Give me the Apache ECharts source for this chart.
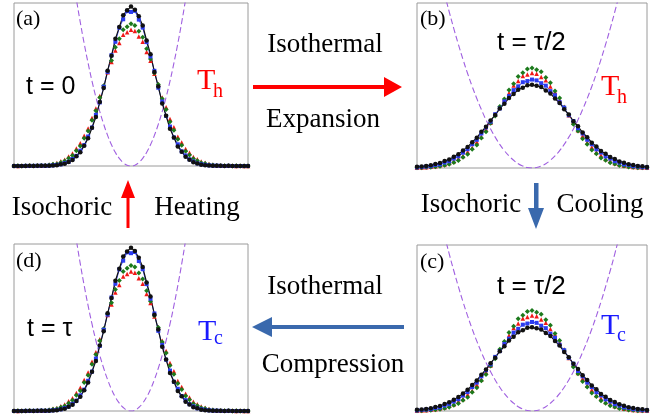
<!DOCTYPE html>
<html>
<head>
<meta charset="utf-8">
<script src="https://cdn.jsdelivr.net/npm/echarts@6/dist/echarts.min.js"></script>
<style>
  html, body { margin: 0; padding: 0; background: #fff; }
  #chart { width: 667px; height: 418px; }
</style>
</head>
<body>
<div id="chart"></div>
<script>
// Sample positions (bins) for the narrow-trap and wide-trap distributions
const xNarrow = [-30,-29,-28,-27,-26,-25,-24,-23,-22,-21,-20,-19,-18,-17,-16,-15,-14,-13,-12,-11,-10,-9,-8,-7,-6,-5,-4,-3,-2,-1,0,1,2,3,4,5,6,7,8,9,10,11,12,13,14,15,16,17,18,19,20,21,22,23,24,25,26,27,28,29,30];
const xWide = [-25,-24,-23,-22,-21,-20,-19,-18,-17,-16,-15,-14,-13,-12,-11,-10,-9,-8,-7,-6,-5,-4,-3,-2,-1,0,1,2,3,4,5,6,7,8,9,10,11,12,13,14,15,16,17,18,19,20,21,22,23,24,25];

// Position distributions in the stiff trap (t = 0 and t = tau)
const blackNarrow = [0,0,0,0,0.001,0,0.001,0.001,0.002,0.002,
  0.003,0.005,0.010,0.014,0.025,0.037,0.060,0.085,0.125,0.170,
  0.235,0.300,0.392,0.478,0.585,0.676,0.780,0.852,0.925,0.955,
  0.978,
  0.958,0.918,0.862,0.770,0.686,0.577,0.488,0.384,0.308,0.228,
  0.175,0.120,0.088,0.056,0.039,0.023,0.016,0.008,0.005,0.003,
  0.002,0.001,0.001,0,0.001,0,0,0,0,0];
const blueNarrow = [0,0,0,0.001,0,0.001,0.001,0.002,0.001,0.002,
  0.004,0.007,0.010,0.018,0.026,0.043,0.062,0.094,0.128,0.181,
  0.236,0.314,0.390,0.487,0.577,0.680,0.762,0.848,0.900,0.950,
  0.945,
  0.952,0.898,0.849,0.760,0.672,0.584,0.480,0.396,0.307,0.242,
  0.175,0.133,0.090,0.065,0.041,0.028,0.016,0.011,0.007,0.004,
  0.002,0.002,0.001,0,0.001,0,0,0,0,0];
const greenNarrow = [0,0.001,0,0.001,0.001,0.002,0.001,0.003,0.003,0.006,
  0.010,0.013,0.022,0.030,0.047,0.064,0.094,0.122,0.170,0.214,
  0.280,0.339,0.421,0.492,0.580,0.648,0.728,0.781,0.836,0.855,
  0.872,
  0.862,0.826,0.790,0.720,0.657,0.571,0.500,0.413,0.347,0.272,
  0.220,0.164,0.128,0.090,0.068,0.044,0.032,0.020,0.015,0.008,
  0.006,0.003,0.002,0.001,0.001,0,0.001,0,0,0];
const redNarrow = [0.001,0,0.001,0.001,0.002,0.001,0.003,0.003,0.005,0.008,
  0.013,0.018,0.029,0.039,0.058,0.077,0.108,0.139,0.186,0.230,
  0.295,0.352,0.430,0.494,0.575,0.638,0.709,0.755,0.805,0.820,
  0.836,
  0.828,0.795,0.762,0.700,0.646,0.566,0.502,0.421,0.360,0.288,
  0.238,0.180,0.144,0.104,0.081,0.055,0.041,0.027,0.020,0.012,
  0.008,0.005,0.003,0.002,0.001,0.001,0,0.001,0,0];

// Position distributions in the soft trap (t = tau/2)
const blackWide = [0.007,0.009,0.012,0.017,0.024,0.030,0.042,0.052,0.068,0.084,
  0.106,0.128,0.156,0.184,0.219,0.250,0.288,0.321,0.360,0.390,
  0.425,0.448,0.474,0.487,0.501,
  0.504,
  0.498,0.491,0.470,0.452,0.421,
  0.394,0.356,0.324,0.284,0.253,0.215,0.187,0.153,0.131,0.103,
  0.086,0.066,0.054,0.040,0.032,0.022,0.018,0.012,0.010,0.006];
const blueWide = [0.004,0.006,0.009,0.011,0.018,0.022,0.033,0.041,0.057,0.071,
  0.093,0.114,0.144,0.171,0.209,0.246,0.281,0.326,0.361,0.404,
  0.436,0.472,0.495,0.520,0.527,
  0.536,
  0.531,0.514,0.499,0.466,0.441,
  0.399,0.366,0.320,0.285,0.241,0.209,0.171,0.144,0.113,0.094,
  0.070,0.057,0.041,0.033,0.022,0.018,0.011,0.009,0.005,0.004];
const redWide = [0.002,0.003,0.005,0.008,0.010,0.016,0.021,0.031,0.041,0.058,
  0.073,0.099,0.122,0.158,0.190,0.234,0.274,0.325,0.366,0.416,
  0.455,0.500,0.527,0.557,0.566,
  0.576,
  0.571,0.551,0.532,0.494,0.461,
  0.411,0.371,0.319,0.278,0.229,0.194,0.154,0.126,0.095,0.077,
  0.054,0.043,0.029,0.023,0.014,0.011,0.006,0.005,0.003,0.002];
const greenWide = [0.001,0.002,0.004,0.005,0.008,0.010,0.017,0.022,0.034,0.045,
  0.065,0.083,0.113,0.140,0.182,0.220,0.271,0.315,0.372,0.418,
  0.473,0.511,0.555,0.577,0.600,
  0.606,
  0.595,0.583,0.549,0.517,0.467,
  0.424,0.366,0.321,0.265,0.224,0.177,0.144,0.109,0.087,0.061,
  0.047,0.032,0.024,0.015,0.012,0.006,0.005,0.002,0.002,0.001];

// Harmonic trapping potentials (stiff and soft)
const potXNarrow = [-15,-14,-13,-12,-11,-10,-9,-8,-7,-6,-5,-4,-3,-2,-1,0,1,2,3,4,5,6,7,8,9,10,11,12,13,14,15];
const potNarrow = [1.173,1.022,0.881,0.751,0.631,0.521,0.422,0.334,0.256,0.188,0.130,0.083,0.047,0.021,0.005,0,
  0.005,0.021,0.047,0.083,0.130,0.188,0.256,0.334,0.422,0.521,0.631,0.751,0.881,1.022,1.173];
const potXWide = [-20,-19,-18,-17,-16,-15,-14,-13,-12,-11,-10,-9,-8,-7,-6,-5,-4,-3,-2,-1,0,1,2,3,4,5,6,7,8,9,10,11,12,13,14,15,16,17,18,19,20];
const potWide = [1.170,1.056,0.947,0.845,0.749,0.658,0.573,0.494,0.421,0.354,0.292,0.237,0.187,0.143,0.105,0.073,0.047,0.026,0.012,0.003,0,
  0.003,0.012,0.026,0.047,0.073,0.105,0.143,0.187,0.237,0.292,0.354,0.421,0.494,0.573,0.658,0.749,0.845,0.947,1.056,1.170];

// Panel layout: (a) top-left, (b) top-right, (d) bottom-left, (c) bottom-right
const panels = [
  { grid: { left: 14, top: 3, width: 234, height: 163 }, xs: xNarrow, xr: 30, pot: [potXNarrow, potNarrow],
    data: [redNarrow, greenNarrow, blueNarrow, blackNarrow] },
  { grid: { left: 417, top: 3, width: 230, height: 165 }, xs: xWide, xr: 25, pot: [potXWide, potWide],
    data: [redWide, greenWide, blueWide, blackWide] },
  { grid: { left: 14, top: 244, width: 234, height: 167 }, xs: xNarrow, xr: 30, pot: [potXNarrow, potNarrow],
    data: [redNarrow, greenNarrow, blueNarrow, blackNarrow] },
  { grid: { left: 417, top: 245, width: 230, height: 166 }, xs: xWide, xr: 25, pot: [potXWide, potWide],
    data: [redWide, greenWide, blueWide, blackWide] }
];

const markerStyles = [
  { color: '#f01818', symbol: 'triangle', size: 4.5, line: 0 },
  { color: '#1c7a1c', symbol: 'diamond', size: 5, line: 0 },
  { color: '#2b3cf0', symbol: 'rect', size: 4, line: 0.9 },
  { color: '#111111', symbol: 'circle', size: 4.5, line: 1.2 }
];

const zip = (xs, ys) => xs.map((x, k) => [x, ys[k]]);

const grids = [], xAxes = [], yAxes = [], series = [];
panels.forEach((p, gi) => {
  grids.push(Object.assign({ show: true, borderColor: '#9a9a9a', borderWidth: 1, backgroundColor: 'transparent' }, p.grid));
  xAxes.push({ type: 'value', gridIndex: gi, min: -p.xr, max: p.xr, show: false });
  yAxes.push({ type: 'value', gridIndex: gi, min: 0, max: 1, show: false });
  series.push({
    type: 'line', xAxisIndex: gi, yAxisIndex: gi, data: zip(p.pot[0], p.pot[1]),
    smooth: true, symbol: 'none', silent: true,
    lineStyle: { color: '#a060e0', width: 1.1, type: [6, 3] }
  });
  p.data.forEach((ys, si) => {
    const m = markerStyles[si];
    series.push({
      type: 'line', xAxisIndex: gi, yAxisIndex: gi, data: zip(p.xs, ys),
      symbol: m.symbol, symbolSize: m.size, showSymbol: true, silent: true,
      itemStyle: { color: m.color },
      lineStyle: { color: m.color, width: m.line, opacity: m.line ? 1 : 0 }
    });
  });
});

const serif = '"Liberation Serif", "Times New Roman", serif';
const sans = '"Liberation Sans", Arial, sans-serif';
function txt(text, x, y, size, family, color, align) {
  return { type: 'text', silent: true, style: {
    text: text, x: x, y: y, fill: color || '#000', font: size + 'px ' + family,
    align: align || 'left', verticalAlign: 'middle',
    textAlign: align || 'left', textVerticalAlign: 'middle' } };
}
function arrow(points, color) {
  return { type: 'polygon', silent: true, shape: { points: points }, style: { fill: color } };
}

const red = '#ff0000', steel = '#3a69ad', blueT = '#1a1aff';
const graphics = [
  // panel tags
  txt('(a)', 16, 19, 22, serif), txt('(b)', 420, 19, 22, serif),
  txt('(d)', 16, 261, 22, serif), txt('(c)', 420, 262, 22, serif),
  // times
  txt('t = 0', 26, 87, 25, sans), txt('t = \u03c4/2', 497, 43, 26, sans),
  txt('t = \u03c4', 27, 329, 25, sans), txt('t = \u03c4/2', 497, 287, 26, sans),
  // bath temperatures
  txt('T', 197, 81, 30, serif, red), txt('h', 213, 92, 20, serif, red),
  txt('T', 601, 87, 30, serif, red), txt('h', 617, 98, 20, serif, red),
  txt('T', 198, 332, 30, serif, blueT), txt('c', 214, 339, 20, serif, blueT),
  txt('T', 601, 326, 30, serif, blueT), txt('c', 617, 336, 20, serif, blueT),
  // process labels
  txt('Isothermal', 325, 45, 27, serif, '#000', 'center'),
  txt('Expansion', 323, 120, 27, serif, '#000', 'center'),
  txt('Isochoric', 62, 208, 27, serif, '#000', 'center'),
  txt('Heating', 197, 208, 27, serif, '#000', 'center'),
  txt('Isochoric', 471, 205, 27, serif, '#000', 'center'),
  txt('Cooling', 600, 205, 27, serif, '#000', 'center'),
  txt('Isothermal', 325, 287, 27, serif, '#000', 'center'),
  txt('Compression', 333, 365, 27, serif, '#000', 'center'),
  // cycle arrows
  arrow([[253,85],[384,85],[384,77],[402,87],[384,97],[384,89],[253,89]], red),
  arrow([[404,325],[272,325],[272,317],[252,327],[272,337],[272,329],[404,329]], steel),
  arrow([[126.5,228],[126.5,198],[121,198],[128,180],[135,198],[129.5,198],[129.5,228]], red),
  arrow([[534,183],[538.5,183],[538.5,208],[544,208],[536,229],[528,208],[534,208]], steel)
];

const chart = echarts.init(document.getElementById('chart'), null, { renderer: 'canvas' });
chart.setOption({
  animation: false,
  backgroundColor: '#ffffff',
  grid: grids,
  xAxis: xAxes,
  yAxis: yAxes,
  series: series,
  graphic: graphics
});
</script>
</body>
</html>
